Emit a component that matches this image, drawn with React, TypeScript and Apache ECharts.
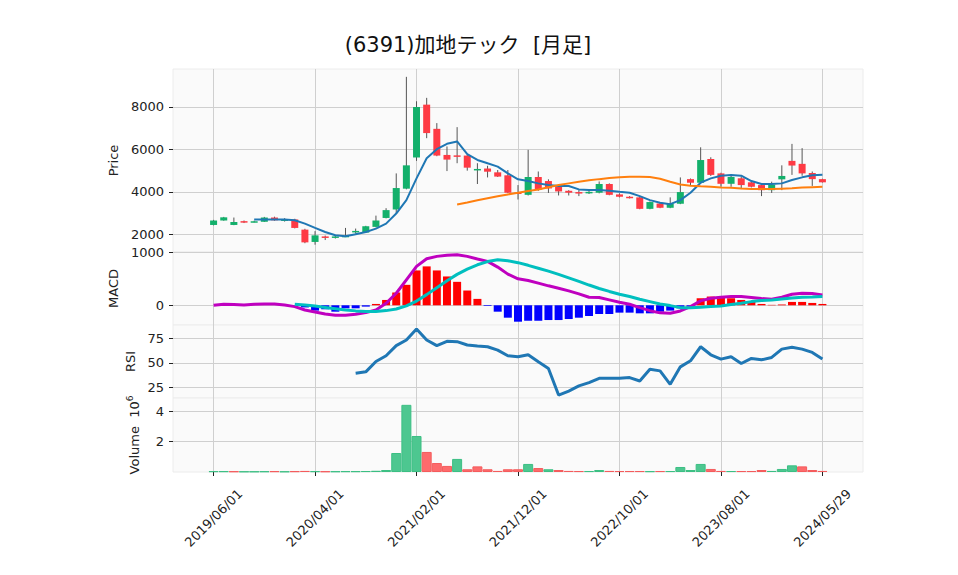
import React, { useEffect, useRef } from 'react';
import * as echarts from 'echarts';

// ---------- data (monthly) ----------
const dates = [
  '2019/06/01','2019/07/01','2019/08/01','2019/09/01','2019/10/01','2019/11/01','2019/12/01',
  '2020/01/01','2020/02/01','2020/03/01','2020/04/01','2020/05/01','2020/06/01','2020/07/01',
  '2020/08/01','2020/09/01','2020/10/01','2020/11/01','2020/12/01','2021/01/01','2021/02/01',
  '2021/03/01','2021/04/01','2021/05/01','2021/06/01','2021/07/01','2021/08/01','2021/09/01',
  '2021/10/01','2021/11/01','2021/12/01','2022/01/01','2022/02/01','2022/03/01','2022/04/01',
  '2022/05/01','2022/06/01','2022/07/01','2022/08/01','2022/09/01','2022/10/01','2022/11/01',
  '2022/12/01','2023/01/01','2023/02/01','2023/03/01','2023/04/01','2023/05/01','2023/06/01',
  '2023/07/01','2023/08/01','2023/09/01','2023/10/01','2023/11/01','2023/12/01','2024/01/01',
  '2024/02/01','2024/03/01','2024/04/01','2024/05/01','2024/05/29',
];

const opens = [
  2440, 2650, 2440, 2620, 2590, 2590, 2790, 2680, 2700, 2220, 1640, 1900, 1830, 1910, 2090,
  2080, 2350, 2770, 3170, 4150, 5620, 8110, 6970, 5740, 5720, 5710, 5060, 5100, 4920, 4780,
  3970, 3860, 4700, 4510, 4240, 4050, 3990, 3930, 3960, 4370, 3880, 3770, 3740, 3200, 3450,
  3250, 3440, 4600, 4430, 5550, 4870, 4380, 4640, 4450, 4320, 4080, 4590, 5460, 5320, 4890, 4600,
];
const highs = [
  2680, 2820, 2790, 2650, 2640, 2820, 2830, 2760, 2730, 2260, 2150, 1940, 1920, 2300, 2270,
  2400, 2880, 3230, 4870, 9420, 8270, 8430, 7240, 6140, 7050, 5740, 5350, 5230, 5030, 5030,
  4320, 5980, 4960, 4590, 4370, 4080, 4080, 4080, 4490, 4400, 3930, 3800, 3760, 3550, 3470,
  3740, 4680, 4630, 6100, 5630, 4900, 4820, 4720, 4480, 4400, 4480, 5250, 6260, 6060, 4960, 4620,
];
const lows = [
  2420, 2640, 2430, 2530, 2560, 2580, 2640, 2600, 2280, 1580, 1510, 1730, 1800, 1880, 2030,
  2060, 2330, 2750, 2990, 4120, 5460, 6530, 5680, 4980, 5350, 5000, 4370, 4680, 4700, 3940,
  3640, 3830, 4050, 3950, 3830, 3830, 3800, 3900, 3930, 3840, 3740, 3690, 3180, 3180, 3230,
  3230, 3420, 4320, 4370, 4750, 4240, 4240, 4130, 4210, 3800, 3950, 4080, 4800, 4760, 4280, 4440,
];
const closes = [
  2650, 2800, 2580, 2590, 2610, 2790, 2660, 2700, 2300, 1620, 1950, 1830, 1900, 1930, 2160,
  2380, 2650, 3140, 4180, 5250, 8000, 6770, 5710, 5520, 5660, 5140, 5080, 4950, 4720, 3960,
  3930, 4700, 4100, 4160, 4020, 3960, 3930, 4000, 4370, 3860, 3770, 3720, 3200, 3520, 3250,
  3450, 3990, 4430, 5500, 4800, 4380, 4700, 4320, 4240, 4080, 4340, 4750, 5240, 4870, 4600, 4450,
];

const ma5 = [
  null, null, null, null, 2695, 2695, 2695, 2695, 2663, 2505, 2300, 2110, 1953, 1905, 2000,
  2110, 2268, 2505, 2979, 3610, 4637, 5584, 6011, 6263, 6374, 5774, 5505, 5347, 5190, 4874,
  4590, 4511, 4400, 4321, 4274, 4274, 4116, 4084, 4084, 4053, 4005, 3958, 3800, 3610, 3484,
  3421, 3610, 3958, 4432, 4637, 4763, 4795, 4763, 4511, 4368, 4368, 4400, 4558, 4684, 4779, 4811,
];
const ma25 = [
  null, null, null, null, null, null, null, null, null, null, null, null, null, null, null,
  null, null, null, null, null, null, null, null, null, 3405, 3500, 3600, 3700, 3790, 3880,
  3955, 4040, 4115, 4220, 4320, 4400, 4480, 4545, 4600, 4650, 4685, 4710, 4715, 4700, 4620,
  4480, 4350, 4290, 4260, 4240, 4210, 4190, 4160, 4140, 4130, 4130, 4150, 4170, 4200, 4220, 4240,
];

const macdLine = [
  0, 19, 13, 6, 19, 25, 25, 6, -25, -88, -126, -164, -189, -189, -170,
  -138, -88, 38, 226, 478, 730, 874, 918, 937, 950, 918, 868, 824, 717, 585,
  497, 465, 415, 365, 321, 270, 214, 151, 145, 101, 57, 19, -44, -101, -142,
  -150, -107, -25, 82, 132, 151, 164, 164, 145, 126, 113, 151, 208, 226, 220, 195,
];
const signalLine = [
  null, null, null, null, null, null, null, null, 20, 5, -15, -40, -65, -90, -105,
  -115, -115, -100, -70, -10, 80, 200, 330, 460, 580, 680, 760, 820, 855, 835,
  800, 750, 695, 640, 580, 515, 450, 380, 315, 260, 208, 164, 113, 69, 25,
  -6, -44, -44, -38, -25, -13, 13, 38, 69, 88, 101, 120, 138, 151, 157, 164,
];
const macdHist = [
  null, null, null, null, null, null, null, null, -10, -40, -100, -75, -120, -57, -57,
  -25, 25, 100, 240, 384, 654, 730, 654, 541, 440, 277, 120, -13, -120, -233,
  -308, -290, -290, -277, -277, -258, -233, -201, -164, -164, -138, -138, -151, -151, -120,
  -100, -57, -25, 132, 164, 151, 132, 100, 69, 25, 8, 15, 63, 63, 44, 25,
];

const rsi14 = [
  null, null, null, null, null, null, null, null, null, null, null, null, null, null, 39.4,
  40.8, 51.4, 57.2, 67.5, 73.3, 84.6, 73.3, 67.5, 71.9, 71.6, 68.2, 67.1, 66.4, 63.0, 57.2,
  56.2, 58.2, 51.0, 44.2, 17.1, 21.2, 26.4, 29.8, 34.2, 34.2, 34.2, 34.9, 31.5, 43.5, 41.8,
  28.1, 45.9, 52.1, 66.4, 58.2, 53.8, 56.2, 49.3, 54.5, 53.1, 55.5, 64.0, 65.8, 64.0, 60.6, 53.8,
];

const volumes = [
  50000, 50000, 40000, 30000, 30000, 40000, 50000, 30000, 50000, 70000, 50000, 40000, 40000, 50000, 50000,
  60000, 80000, 130000, 1250000, 4420000, 2370000, 1320000, 590000, 400000, 860000, 180000, 370000, 180000, 70000, 180000,
  180000, 530000, 260000, 180000, 130000, 70000, 60000, 60000, 130000, 70000, 60000, 60000, 60000, 50000, 60000,
  60000, 330000, 130000, 530000, 200000, 70000, 60000, 60000, 60000, 130000, 70000, 200000, 440000, 370000, 130000, 70000,
];

const priceTicks = [2000, 4000, 6000, 8000];
const macdTicks = [0, 1000];
const rsiTicks = [25, 50, 75];
const volumeTicks = [2000000, 4000000];
const dateTickStep = 10;

const titleText = '(6391)加地テック  [月足]';

// ---------- styling ----------
const PAD = 4;
const UP = '#13b06b';
const DOWN = '#fe3a44';
const VOL_UP = '#4dc790';
const VOL_DOWN = '#fd6b6c';
const GRID_COLOR = '#cfcfcf';
const TEXT = '#222';
const FONT = '"DejaVu Sans", "Noto Sans CJK JP", sans-serif';

const GRIDS = [
  { top: 69, height: 183 },
  { top: 252, height: 73 },
  { top: 325, height: 73 },
  { top: 398, height: 74 },
];

function padArr<T>(arr: T[]): (T | null)[] {
  return [...Array(PAD).fill(null), ...arr, ...Array(PAD).fill(null)];
}

export default function App() {
  const ref = useRef<HTMLDivElement>(null);

  useEffect(() => {
    if (!ref.current) return;
    const chart = echarts.init(ref.current, undefined, { renderer: 'svg' });

    const cats = [
      ...Array.from({ length: PAD }, (_, i) => `padL${i}`),
      ...dates,
      ...Array.from({ length: PAD }, (_, i) => `padR${i}`),
    ];
    const isTick = (idx: number) =>
      idx >= PAD && idx < PAD + dates.length && (idx - PAD) % dateTickStep === 0;

    const xAxes = GRIDS.map((_, g) => ({
      type: 'category',
      gridIndex: g,
      data: cats,
      boundaryGap: false,
      axisLine: { show: false },
      axisTick: {
        show: g === 3,
        interval: (idx: number) => isTick(idx),
        length: 4,
        lineStyle: { color: TEXT, width: 1 },
      },
      axisLabel: {
        show: g === 3,
        interval: (idx: number) => isTick(idx),
        rotate: 45,
        align: 'center',
        verticalAlign: 'middle',
        margin: 46,
        fontSize: 13,
        fontFamily: FONT,
        color: TEXT,
      },
      splitLine: {
        show: true,
        interval: (idx: number) => isTick(idx),
        lineStyle: { color: GRID_COLOR, width: 1 },
      },
    }));

    const yCommon = (g: number, ticks: number[], fmt: (v: number) => string) => ({
      type: 'value',
      gridIndex: g,
      scale: true,
      axisLine: { show: false },
      axisTick: {
        show: true,
        customValues: ticks,
        length: 4,
        lineStyle: { color: TEXT, width: 1 },
      },
      axisLabel: {
        customValues: ticks,
        fontSize: 13,
        fontFamily: FONT,
        color: TEXT,
        margin: 9,
        formatter: (v: number) => fmt(v),
      },
      splitLine: { show: true, lineStyle: { color: GRID_COLOR, width: 1 } },
      nameLocation: 'middle',
      nameRotate: 90,
      nameTextStyle: { fontSize: 13, fontFamily: FONT, color: TEXT },
    });

    const plain = (v: number) => String(v);

    const yAxes = [
      { ...yCommon(0, priceTicks, plain), min: 1166, max: 9790, name: 'Price', nameGap: 50 },
      { ...yCommon(1, macdTicks, plain), min: -370, max: 1000, name: 'MACD', nameGap: 50 },
      { ...yCommon(2, rsiTicks, plain), min: 14.1, max: 88.6, name: 'RSI', nameGap: 35 },
      {
        ...yCommon(3, volumeTicks, (v) => String(Math.round(v / 1e6))),
        min: 0,
        max: 4870000,
        name: '{a|Volume  10}{b|6}',
        nameGap: 30,
        nameTextStyle: {
          fontSize: 13,
          fontFamily: FONT,
          color: TEXT,
          rich: {
            a: { fontSize: 13, fontFamily: FONT, color: TEXT, lineHeight: 18 },
            b: { fontSize: 9, fontFamily: FONT, color: TEXT, verticalAlign: 'top', lineHeight: 18 },
          },
        },
      },
    ];

    const candleData = dates.map((_, i) => [i + PAD, opens[i], closes[i], lows[i], highs[i]]);

    const volData = padArr(
      volumes.map((v, i) => {
        const up = i === 0 ? closes[i] >= opens[i] : closes[i] >= closes[i - 1];
        return {
          value: v,
          itemStyle: {
            color: up ? VOL_UP : VOL_DOWN,
            borderColor: up ? '#3cbf84' : '#f45c5d',
            borderWidth: 1,
          },
        };
      })
    ).map((d) => (d === null ? '-' : d));

    const histData = padArr(macdHist).map((v) =>
      v === null
        ? '-'
        : { value: v, itemStyle: { color: (v as number) >= 0 ? '#ff0000' : '#0000ff' } }
    );

    const option: any = {
      animation: false,
      backgroundColor: '#ffffff',
      graphic: [
        {
          type: 'text',
          x: 468,
          y: 45,
          style: {
            text: titleText,
            font: `21px ${FONT}`,
            fill: '#111',
            textAlign: 'center',
            textVerticalAlign: 'middle',
          },
        },
      ],
      grid: GRIDS.map((g) => ({
        left: 173,
        width: 690,
        top: g.top,
        height: g.height,
        show: true,
        backgroundColor: '#fafafa',
        borderColor: '#ececec',
        borderWidth: 1,
        containLabel: false,
      })),
      xAxis: xAxes,
      yAxis: yAxes,
      series: [
        {
          type: 'custom',
          name: 'candle',
          xAxisIndex: 0,
          yAxisIndex: 0,
          data: candleData,
          encode: { x: 0, y: [1, 2, 3, 4] },
          renderItem: (_params: any, api: any) => {
            const x = api.value(0);
            const o = api.value(1);
            const c = api.value(2);
            const l = api.value(3);
            const h = api.value(4);
            const pH = api.coord([x, h]);
            const pL = api.coord([x, l]);
            const pO = api.coord([x, o]);
            const pC = api.coord([x, c]);
            const color = c >= o ? UP : DOWN;
            const w = 7;
            const top = Math.min(pO[1], pC[1]);
            const bh = Math.max(Math.abs(pO[1] - pC[1]), 1.5);
            return {
              type: 'group',
              children: [
                {
                  type: 'line',
                  shape: { x1: pH[0], y1: pH[1], x2: pL[0], y2: pL[1] },
                  style: { stroke: '#555555', lineWidth: 1 },
                },
                {
                  type: 'rect',
                  shape: { x: pO[0] - w / 2, y: top, width: w, height: bh },
                  style: { fill: color },
                },
              ],
            };
          },
          z: 2,
        },
        {
          type: 'line',
          name: 'MA5',
          xAxisIndex: 0,
          yAxisIndex: 0,
          data: padArr(ma5),
          showSymbol: false,
          lineStyle: { color: '#1f77b4', width: 2 },
          z: 3,
        },
        {
          type: 'line',
          name: 'MA25',
          xAxisIndex: 0,
          yAxisIndex: 0,
          data: padArr(ma25),
          showSymbol: false,
          lineStyle: { color: '#ff7f0e', width: 2 },
          z: 3,
        },
        {
          type: 'bar',
          name: 'Hist',
          xAxisIndex: 1,
          yAxisIndex: 1,
          data: histData,
          barWidth: 8,
        },
        {
          type: 'line',
          name: 'MACD',
          xAxisIndex: 1,
          yAxisIndex: 1,
          data: padArr(macdLine),
          showSymbol: false,
          lineStyle: { color: '#bf00bf', width: 3 },
          z: 3,
        },
        {
          type: 'line',
          name: 'Signal',
          xAxisIndex: 1,
          yAxisIndex: 1,
          data: padArr(signalLine),
          showSymbol: false,
          lineStyle: { color: '#00bfbf', width: 3 },
          z: 3,
        },
        {
          type: 'line',
          name: 'RSI',
          xAxisIndex: 2,
          yAxisIndex: 2,
          data: padArr(rsi14),
          showSymbol: false,
          lineStyle: { color: '#1f77b4', width: 3 },
        },
        {
          type: 'bar',
          name: 'Volume',
          xAxisIndex: 3,
          yAxisIndex: 3,
          data: volData,
          barWidth: 10,
        },
      ],
    };

    chart.setOption(option);
    return () => chart.dispose();
  }, []);

  return (
    <div
      ref={ref}
      style={{ position: 'absolute', left: 0, top: 0, width: 958, height: 575, background: '#fff' }}
    />
  );
}
